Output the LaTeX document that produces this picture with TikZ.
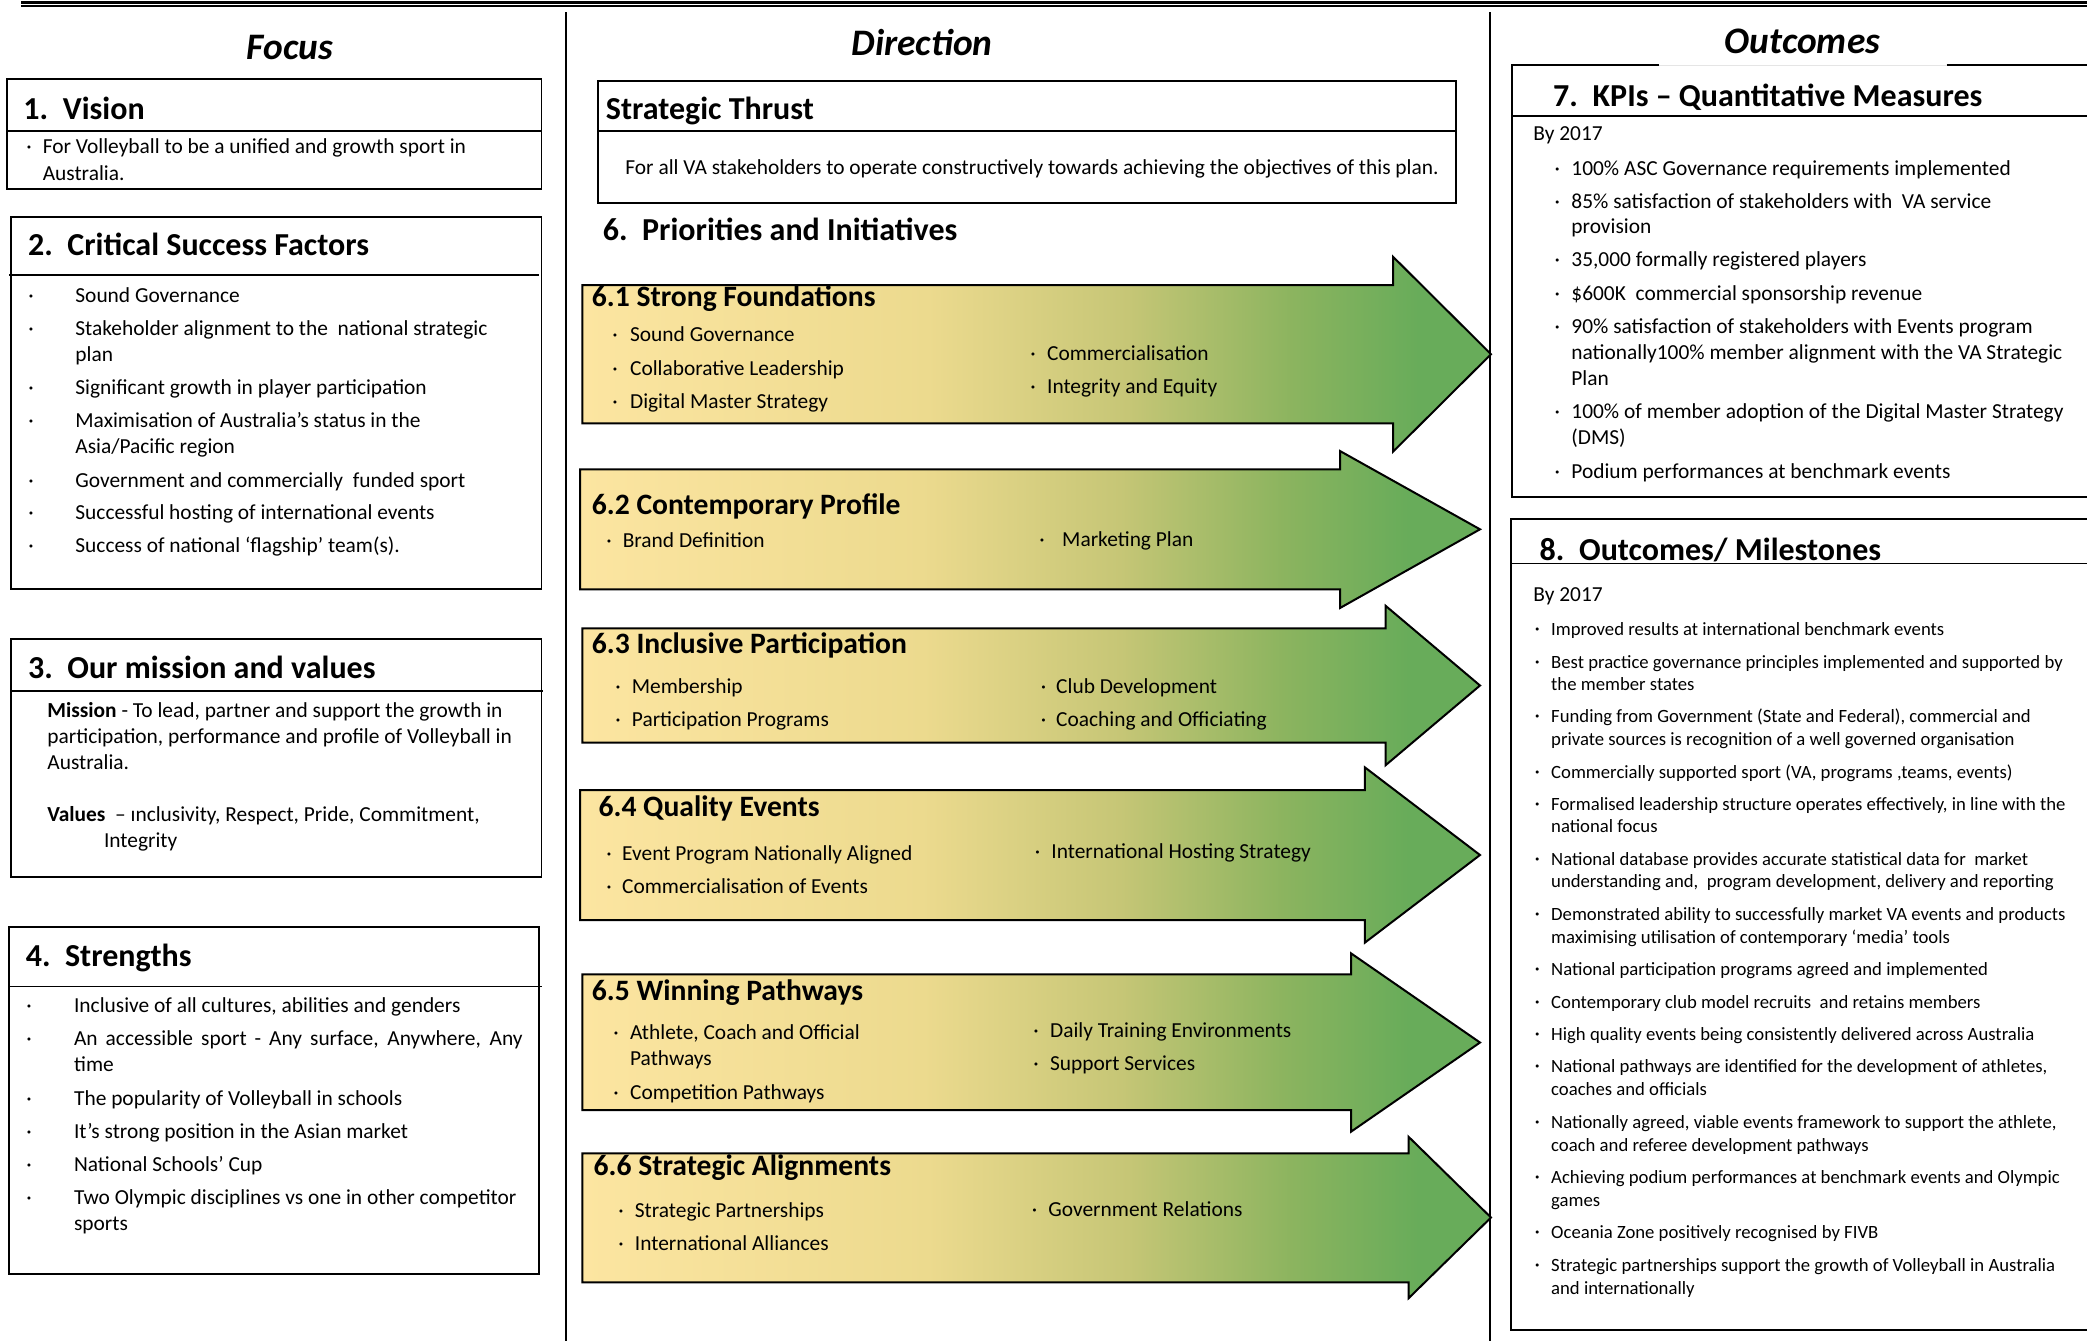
\documentclass[tikz,border=0pt]{standalone}
\usepackage{fontspec}
\setmainfont{Carlito}
\definecolor{ylwA}{RGB}{252,229,161}
\definecolor{ylwB}{RGB}{236,218,142}
\definecolor{grnA}{RGB}{198,198,118}
\definecolor{grnC}{RGB}{140,180,95}
\definecolor{grnB}{RGB}{104,172,90}
% the path box spans 25bp..75bp of the shading
\pgfdeclarehorizontalshading{arrowfill}{100bp}{color(0bp)=(ylwA); color(25bp)=(ylwA); color(44bp)=(ylwB); color(55bp)=(grnA); color(64bp)=(grnC); color(71bp)=(grnB); color(100bp)=(grnB)}
\begin{document}
\begin{tikzpicture}[x=0.5pt,y=-0.5pt,
  body/.style={anchor=base west,inner sep=0pt,font=\fontsize{10.7}{12.8}\selectfont},
  stbody/.style={anchor=base west,inner sep=0pt,font=\fontsize{10.7}{12.8}\selectfont},
  sbody/.style={anchor=base west,inner sep=0pt,font=\fontsize{9.35}{11.2}\selectfont},
  bul/.style={anchor=base,inner sep=0pt,font=\fontsize{10.7}{12.8}\selectfont},
  ttl/.style={anchor=base west,inner sep=0pt,font=\fontsize{16}{19}\selectfont\bfseries},
  mttl/.style={anchor=base west,inner sep=0pt,font=\fontsize{16}{19}\selectfont\bfseries},
  attl/.style={anchor=base west,inner sep=0pt,font=\fontsize{14.8}{17.6}\selectfont\bfseries},
  colhead/.style={anchor=base,inner sep=0pt,font=\fontsize{18.7}{22}\selectfont\bfseries\itshape},
  frame/.style={draw=black,line width=0.9pt},
  rule/.style={draw=black,line width=0.8pt},
  arrowshape/.style={draw=black,line width=1pt,line join=miter,shading=arrowfill}]
\useasboundingbox (0,0) rectangle (2087,1341);
\clip (0,0) rectangle (2087,1341);

% double rule across the top and the column dividers
\draw[line width=1.1pt] (21,2.5) -- (2087,2.5);
\draw[line width=1.1pt] (21,6) -- (2087,6);
\draw[line width=0.9pt] (566,12) -- (566,1341);
\draw[line width=0.9pt] (1490,12) -- (1490,1341);

% ---------------- Focus column ----------------
\node[colhead] (focus) at (290,59) {Focus};

% 1. Vision
\draw[frame] (6.7,79) rectangle (541.5,189);
\draw[rule] (6.7,131) -- (541.5,131);
\node[ttl] (visn) at (23,119) {1.};
\node[ttl] (vist) at (62.5,119) {Vision};
\node[bul] (visb) at (29,153) {·};
\node[body] (vis1) at (42.4,153) {For Volleyball to be a unified and growth sport in};
\node[body] (vis2) at (42.4,180) {Australia.};

% 2. Critical Success Factors
\draw[frame] (11,217) rectangle (541.5,589);
\draw[rule] (9,275) -- (539,275);
\node[ttl] (csfn) at (27.7,255.6) {2.};
\node[ttl] (csft) at (67,255.6) {Critical Success Factors};
\foreach \y [count=\i] in {302,335.6,394,427,487,519,552}
  \node[bul] (csfb\i) at (31,\y) {·};
\foreach \y/\t [count=\i] in {302/{Sound Governance},
    335.6/{Stakeholder alignment to the \ national strategic},
    361/{plan},
    394/{Significant growth in player participation},
    427/{Maximisation of Australia’s status in the},
    453/{Asia/Pacific region},
    487/{Government and commercially \ funded sport},
    519/{Successful hosting of international events},
    552/{Success of national ‘flagship’ team(s).}}
  \node[body] (csf\i) at (75,\y) {\t};

% 3. Our mission and values
\draw[frame] (11,639) rectangle (541.5,877);
\draw[rule] (11,691) -- (543,691);
\node[ttl] (misn) at (27.7,678) {3.};
\node[ttl] (mist) at (67,678) {Our mission and values};
\node[body] (mis1) at (47,717) {\textbf{Mission} - To lead, partner and support the growth in};
\node[body] (mis2) at (47,743) {participation, performance and profile of Volleyball in};
\node[body] (mis3) at (47,769) {Australia.};
\node[body] (mis4) at (47,821) {\textbf{Values} \ – ınclusivity, Respect, Pride, Commitment,};
\node[body] (mis5) at (103.6,847) {Integrity};

% 4. Strengths
\draw[frame] (9,927) rectangle (539,1274);
\draw[rule] (9,986.6) -- (541.5,986.6);
\node[ttl] (strn) at (25.4,966) {4.};
\node[ttl] (strt) at (64.7,966) {Strengths};
\foreach \y [count=\i] in {1012.6,1045,1105,1138,1171,1204}
  \node[bul] (strb\i) at (29,\y) {·};
\foreach \y/\t [count=\i] in {1012.6/{Inclusive of all cultures, abilities and genders},
    1071/{time},
    1105/{The popularity of Volleyball in schools},
    1138/{It’s strong position in the Asian market},
    1171/{National Schools’ Cup},
    1204/{Two Olympic disciplines vs one in other competitor},
    1230/{sports}}
  \node[body] (str\i) at (73.7,\y) {\t};
\node[body] (stracc) at (73.7,1045) {\makebox[224.2pt][s]{An accessible sport - Any surface, Anywhere, Any}};

% ---------------- Direction column ----------------
\node[colhead] (direction) at (922,55) {Direction};

% Strategic thrust
\draw[frame] (597.6,80.7) rectangle (1455.8,202.7);
\draw[rule] (597.6,131) -- (1455.8,131);
\node[mttl] (stt) at (605.5,119.3) {Strategic Thrust};
\node[stbody] (stb) at (625,174) {For all VA stakeholders to operate constructively towards achieving the objectives of this plan.};

\node[mttl] (prin) at (602.4,240.7) {6.};
\node[mttl] (prit) at (641.8,240.7) {Priorities and Initiatives};

% priority arrows: body left, top, bottom, neck x, head top, head bottom, tip x, tip y
\foreach \L/\T/\B/\N/\HT/\HB/\X/\Y in {
    582.4/285/423.3/1393/256.7/451.7/1491/354.2,
    580/469.3/589.3/1340/451/608/1480/529.3,
    582.4/628.3/742.7/1385.5/605.7/765.3/1480/685.5,
    580/790/920/1364.8/767.3/942.7/1480/855,
    582.4/974.3/1110/1351/953.3/1131.7/1480/1042.5,
    582.4/1153.3/1282.3/1408.5/1136.7/1298.3/1491/1217.5}
  \path[arrowshape] (\L,\T) -- (\N,\T) -- (\N,\HT) -- (\X,\Y) -- (\N,\HB) -- (\N,\B) -- (\L,\B) -- cycle;

% 6.1
\node[attl] (p1) at (591.5,306.7) {6.1 Strong Foundations};
\foreach \y/\t [count=\i] in {341.7/{Sound Governance},375/{Collaborative Leadership},408/{Digital Master Strategy}}
  {\node[bul] (p1b\i) at (615,\y) {·}; \node[body] (p1l\i) at (629.7,\y) {\t};}
\foreach \y/\t [count=\i] in {360/{Commercialisation},393.3/{Integrity and Equity}}
  {\node[bul] (p1c\i) at (1033,\y) {·}; \node[body] (p1r\i) at (1046.7,\y) {\t};}

% 6.2
\node[attl] (p2) at (591.5,514) {6.2 Contemporary Profile};
\node[bul] (p2b1) at (609,547.3) {·};
\node[body] (p2l1) at (622.4,547.3) {Brand Definition};
\node[bul] (p2c1) at (1042,546) {·};
\node[body] (p2r1) at (1061.8,546) {Marketing Plan};

% 6.3
\node[attl] (p3) at (591.5,653.3) {6.3 Inclusive Participation};
\foreach \y/\t [count=\i] in {693.3/{Membership},726/{Participation Programs}}
  {\node[bul] (p3b\i) at (618,\y) {·}; \node[body] (p3l\i) at (631.5,\y) {\t};}
\foreach \y/\t [count=\i] in {693.3/{Club Development},726/{Coaching and Officiating}}
  {\node[bul] (p3c\i) at (1043.5,\y) {·}; \node[body] (p3r\i) at (1055.8,\y) {\t};}

% 6.4
\node[attl] (p4) at (598.2,816.7) {6.4 Quality Events};
\foreach \y/\t [count=\i] in {860.7/{Event Program Nationally Aligned},893.3/{Commercialisation of Events}}
  {\node[bul] (p4b\i) at (609,\y) {·}; \node[body] (p4l\i) at (621.8,\y) {\t};}
\node[bul] (p4c1) at (1037.5,858.3) {·};
\node[body] (p4r1) at (1051,858.3) {International Hosting Strategy};

% 6.5
\node[attl] (p5) at (591.5,1000) {6.5 Winning Pathways};
\node[bul] (p5b1) at (616,1039.3) {·};
\node[body] (p5l1) at (629.7,1039.3) {Athlete, Coach and Official};
\node[body] (p5l2) at (629.7,1065) {Pathways};
\node[bul] (p5b2) at (616,1099.3) {·};
\node[body] (p5l3) at (629.7,1099.3) {Competition Pathways};
\foreach \y/\t [count=\i] in {1037.7/{Daily Training Environments},1070.7/{Support Services}}
  {\node[bul] (p5c\i) at (1036,\y) {·}; \node[body] (p5r\i) at (1049.7,\y) {\t};}

% 6.6
\node[attl] (p6) at (593.3,1175) {6.6 Strategic Alignments};
\foreach \y/\t [count=\i] in {1217.3/{Strategic Partnerships},1250/{International Alliances}}
  {\node[bul] (p6b\i) at (621,\y) {·}; \node[body] (p6l\i) at (634.5,\y) {\t};}
\node[bul] (p6c1) at (1034.5,1216.7) {·};
\node[body] (p6r1) at (1048,1216.7) {Government Relations};

% ---------------- Outcomes column ----------------
% 7. KPIs box, its top edge broken by the column heading
\draw[draw=black!10,line width=0.5pt] (1659,65) -- (1946.5,65);
\draw[frame] (1659,65) -- (1511.7,65) -- (1511.7,496.7) -- (2100,496.7);
\draw[frame] (1946.5,65) -- (2100,65);
\draw[rule] (1511.7,115.7) -- (2100,115.7);
\node[colhead] (outcomes) at (1802.5,53.3) {Outcomes};
\node[mttl] (kpin) at (1552.8,106) {7.};
\node[mttl] (kpit) at (1592.3,106) {KPIs – Quantitative Measures};
\node[body] (kpiby) at (1533,140.7) {By 2017};
\foreach \y [count=\i] in {175,208.3,266.7,300,333.3,418.3,478.3}
  \node[bul] (kpib\i) at (1557.4,\y) {·};
\foreach \y/\t [count=\i] in {175/{100\% ASC Governance requirements implemented},
    208.3/{85\% satisfaction of stakeholders with \ VA service},
    233.3/{provision},
    266.7/{35,000 formally registered players},
    300/{\$600K \ commercial sponsorship revenue},
    333.3/{90\% satisfaction of stakeholders with Events program},
    359.3/{nationally100\% member alignment with the VA Strategic},
    385/{Plan},
    418.3/{100\% of member adoption of the Digital Master Strategy},
    444.3/{(DMS)},
    478.3/{Podium performances at benchmark events}}
  \node[body] (kpi\i) at (1571,\y) {\t};

% 8. Outcomes / Milestones box
\draw[frame] (2100,519.3) -- (1511,519.3) -- (1511,1330) -- (2100,1330);
\draw[rule] (1511,563.3) -- (2100,563.3);
\node[mttl] (omn) at (1539.2,560) {8.};
\node[mttl] (omt) at (1578.7,560) {Outcomes/ Milestones};
\node[body] (omby) at (1533,601.7) {By 2017};
\foreach \y [count=\i] in {635,668.3,722.7,778.3,810.7,865,920.5,975.7,1008.3,1040.7,1072.7,1128.3,1183.3,1238.3,1271.7}
  \node[bul] (omb\i) at (1537.3,\y) {·};
\foreach \y/\t [count=\i] in {635/{Improved results at international benchmark events},
    668.3/{Best practice governance principles implemented and supported by},
    690.7/{the member states},
    722.7/{Funding from Government (State and Federal), commercial and},
    745/{private sources is recognition of a well governed organisation},
    778.3/{Commercially supported sport (VA, programs ,teams, events)},
    810.7/{Formalised leadership structure operates effectively, in line with the},
    832.7/{national focus},
    865/{National database provides accurate statistical data for \ market},
    887.7/{understanding and, \ program development, delivery and reporting},
    920.5/{Demonstrated ability to successfully market VA events and products},
    943.3/{maximising utilisation of contemporary ‘media’ tools},
    975.7/{National participation programs agreed and implemented},
    1008.3/{Contemporary club model recruits \ and retains members},
    1040.7/{High quality events being consistently delivered across Australia},
    1072.7/{National pathways are identified for the development of athletes,},
    1095.7/{coaches and officials},
    1128.3/{Nationally agreed, viable events framework to support the athlete,},
    1151.7/{coach and referee development pathways},
    1183.3/{Achieving podium performances at benchmark events and Olympic},
    1206/{games},
    1238.3/{Oceania Zone positively recognised by FIVB},
    1271.7/{Strategic partnerships support the growth of Volleyball in Australia},
    1294/{and internationally}}
  \node[sbody] (om\i) at (1550.8,\y) {\t};
\end{tikzpicture}
\end{document}
